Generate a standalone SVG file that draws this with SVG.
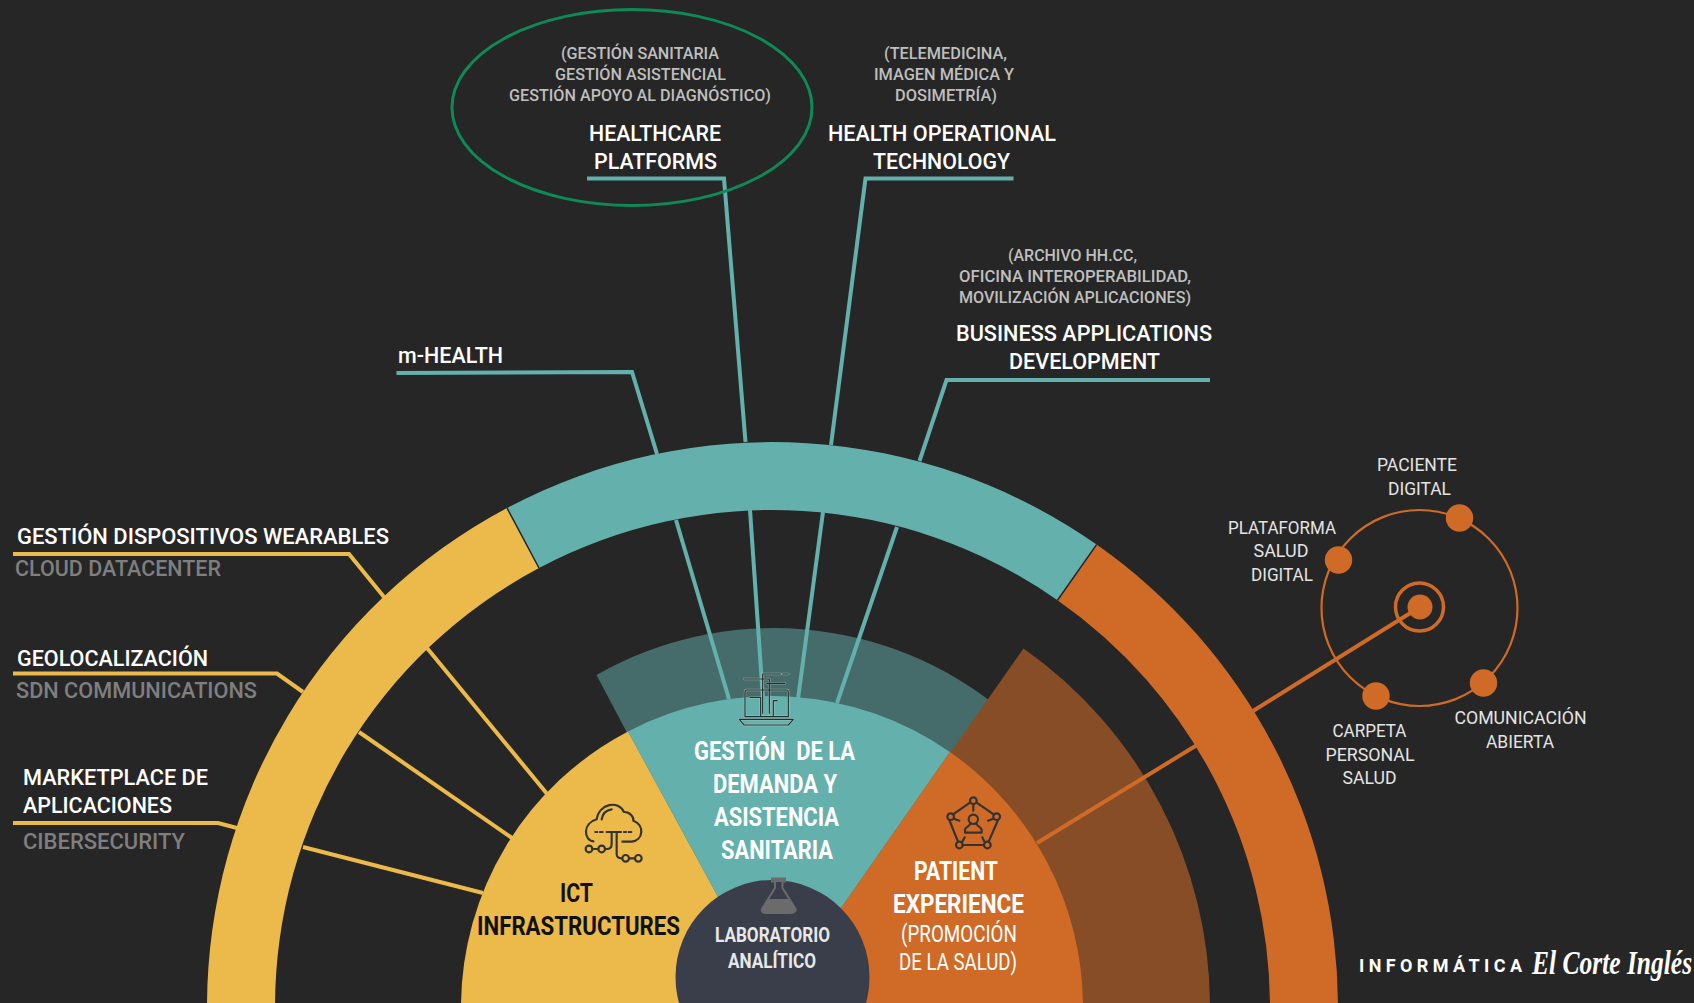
<svg xmlns="http://www.w3.org/2000/svg" width="1694" height="1003" viewBox="0 0 1694 1003">
<style>
text{font-family:Roboto,"Liberation Sans",sans-serif}
.h{font-size:22px;font-weight:500;fill:#fff}
.g{font-size:17px;font-weight:500;fill:#bfbfbf}
.y{font-size:22px;font-weight:500;fill:#fff}
.d{font-size:22px;font-weight:500;fill:#7f7f7f}
.b{font-size:25px;font-weight:700;fill:#fff}
.k{font-size:25px;font-weight:700;fill:#111}
.r{font-size:23px;font-weight:400;fill:#fff}
.l{font-size:20.5px;font-weight:700;fill:#e8e8e8}
.o{font-size:18px;font-weight:400;fill:#e4e4e4}
.ct{fill:none;stroke:#64b0ac;stroke-width:4}
.cy{fill:none;stroke:#ebba4a;stroke-width:4}
.co{fill:none;stroke:#cf6a27;stroke-width:4}
.sep{stroke:#262626;stroke-width:1.5}
.ic{fill:none;stroke:#333;stroke-width:6.5;stroke-linecap:round;stroke-linejoin:round}
.dot{fill:#cf6a27}
</style>
<rect width="1694" height="1003" fill="#262626"/>

<g id="back-wedges">
<path d="M596.5 675A358 358 0 0 1 1002.6 710.8L772 1007Z" fill="#456b6a"/>
<path d="M1023.5 648.5A438 438 0 0 1 1210 1007H772Z" fill="#864d26"/>
</g>

<g id="connectors">
<path class="ct" d="M587 178.5H724L745.5 442"/>
<path class="ct" d="M1013.500 178.5H865.5L831 445"/>
<path class="ct" d="M396.5 373L632 372L657 454"/>
<path class="ct" d="M1210 380H946.5L919.5 461"/>
<path class="ct" d="M676 520L729 699"/>
<path class="ct" d="M750 510L763 699"/>
<path class="ct" d="M823 512L798 699"/>
<path class="ct" d="M897 527L837 703"/>
<path class="cy" d="M13 554H349L384 597"/>
<path class="cy" d="M13 673.5H277L303 692"/>
<path class="cy" d="M13 823H218L237 828"/>
<path class="cy" d="M427 648L548 795"/>
<path class="cy" d="M359 732L512 838"/>
<path class="cy" d="M303 847L483 893"/>
<path class="co" d="M1420 607L1253 711"/>
<path class="co" d="M1197 745L1037 843"/>
</g>

<g id="outer-ring">
<path d="M207 1007A565.500 565.500 0 0 1 507 508L539 568A497 497 0 0 0 275 1007Z" fill="#ebba4a"/>
<path d="M507 508A565.500 565.500 0 0 1 1096.6 544.6L1057.5 600.2A497 497 0 0 0 539 568Z" fill="#64b0ac"/>
<path d="M1096.6 544.6A565.500 565.500 0 0 1 1338 1007H1270A497 497 0 0 0 1057.5 600.2Z" fill="#cf6a27"/>
<path class="sep" d="M507 508L539 568M1096.6 544.6L1057.5 600.2"/>
</g>

<g id="ict-infrastructures">
<path d="M461 1007A311 311 0 0 1 628 731.5L778 1007Z" fill="#ebba4a"/>
<g class="ic" transform="translate(560 780) scale(.3333)">
<path d="M100 184C72 182 66 130 110 118C118 70 175 60 192 96C210 95 222 112 220 122C255 135 250 182 215 185H187"/>
<path d="M125 118C128 100 140 90 155 88"/>
<path d="M140 156H183M106 156H112M120 156H128M192 156H198M206 156H214"/>
<path d="M155 156V192Q155 207 140 207H135M170 156V222Q170 235 185 235"/>
<circle cx="125" cy="207" r="10"/><circle cx="87" cy="207" r="10"/><path d="M97 207H115"/>
<circle cx="197" cy="235" r="10"/><circle cx="235" cy="235" r="10"/><path d="M207 235H225"/>
</g>
<text class="k" x="560" y="902" textLength="33" lengthAdjust="spacingAndGlyphs">ICT</text>
<text class="k" x="477" y="935" textLength="203" lengthAdjust="spacingAndGlyphs">INFRASTRUCTURES</text>
</g>

<g id="gestion-demanda">
<path d="M628 731.5A311 311 0 0 1 950 752L772 1007L778 1007Z" fill="#64b0ac"/>
<g transform="translate(720 650) scale(.3333)" fill="none" stroke-linecap="round" stroke-linejoin="round">
<g stroke="#c6d8d6" stroke-width="7" opacity=".55">
<path d="M80 120H200Q205 120 205 126V200H75V126Q75 120 80 120ZM58 208H220L205 225H72Z"/>
<path d="M128 72H182M188 72H205M72 87H148V96M128 72V190M140 100H195M148 100V190M90 142H122V198M160 152H172M160 152V198"/>
</g>
<g stroke="#22302f" stroke-width="3.500">
<path d="M80 120H200Q205 120 205 126V200H75V126Q75 120 80 120ZM58 208H220L205 225H72Z"/>
<path d="M128 72H182M188 72H205M72 87H148V96M128 72V190M140 100H195M148 100V190M90 142H122V198M160 152H172M160 152V198"/>
</g>
</g>
<text class="b" x="694" y="760" textLength="161" lengthAdjust="spacingAndGlyphs" xml:space="preserve">GESTIÓN  DE LA</text>
<text class="b" x="713" y="793" textLength="124" lengthAdjust="spacingAndGlyphs">DEMANDA Y</text>
<text class="b" x="714" y="826" textLength="125" lengthAdjust="spacingAndGlyphs">ASISTENCIA</text>
<text class="b" x="721" y="859" textLength="112" lengthAdjust="spacingAndGlyphs">SANITARIA</text>
</g>

<g id="patient-experience">
<path d="M950 752A311 311 0 0 1 1083 1007H772Z" fill="#cf6a27"/>
<g class="ic" transform="translate(930 780) scale(.3333)">
<circle cx="130" cy="62" r="10"/><circle cx="200" cy="110" r="10"/><circle cx="172" cy="195" r="10"/><circle cx="88" cy="195" r="10"/><circle cx="62" cy="110" r="10"/>
<path d="M140 68L191 103M204 120L176 185M162 195H98M84 185L58 120M69 103L120 68"/>
<path d="M130 72V92M190 116L174 122M163 185L157 172M97 185L104 172M72 116L88 122"/>
<circle cx="130" cy="118" r="14"/>
<path d="M120 132C118 140 106 140 105 150V158H155V150C154 140 142 140 140 132"/>
</g>
<text class="b" x="914" y="880" textLength="84" lengthAdjust="spacingAndGlyphs">PATIENT</text>
<text class="b" x="893" y="913" textLength="131" lengthAdjust="spacingAndGlyphs">EXPERIENCE</text>
<text class="r" x="901" y="942" textLength="116" lengthAdjust="spacingAndGlyphs">(PROMOCIÓN</text>
<text class="r" x="899" y="970" textLength="118" lengthAdjust="spacingAndGlyphs">DE LA SALUD)</text>
</g>

<g id="laboratorio">
<circle cx="772.5" cy="977" r="97" fill="#393e4a"/>
<path d="M772 878.500H785V881.500H782.500V888L795 908C797 911.500 794 913 790.500 913H766.500C763 913 760.500 911.500 762.500 908L775 888V881.500H772Z" fill="none" stroke="#6b6b6b" stroke-width="2"/>
<path d="M772 878H785V882H775Z" fill="#6b6b6b"/>
<path d="M767.500 899H789.500L795 908C797 911.500 794 913 790.500 913H766.500C763 913 760.500 911.500 762.500 908Z" fill="#6b6b6b"/>
<text class="l" x="715" y="942" textLength="115" lengthAdjust="spacingAndGlyphs">LABORATORIO</text>
<text class="l" x="728" y="968" textLength="88" lengthAdjust="spacingAndGlyphs">ANALÍTICO</text>
</g>

<g id="healthcare-platforms">
<ellipse cx="632" cy="107.5" rx="180" ry="98" fill="none" stroke="#0e8a57" stroke-width="3"/>
<text class="g" x="561" y="58.500" textLength="158" lengthAdjust="spacingAndGlyphs">(GESTIÓN SANITARIA</text>
<text class="g" x="555" y="80" textLength="171" lengthAdjust="spacingAndGlyphs">GESTIÓN ASISTENCIAL</text>
<text class="g" x="509" y="101" textLength="262" lengthAdjust="spacingAndGlyphs">GESTIÓN APOYO AL DIAGNÓSTICO)</text>
<text class="h" x="589" y="141" textLength="132" lengthAdjust="spacingAndGlyphs">HEALTHCARE</text>
<text class="h" x="594" y="169" textLength="123" lengthAdjust="spacingAndGlyphs">PLATFORMS</text>
</g>

<g id="health-operational">
<text class="g" x="884" y="58.500" textLength="123" lengthAdjust="spacingAndGlyphs">(TELEMEDICINA,</text>
<text class="g" x="874" y="80" textLength="140" lengthAdjust="spacingAndGlyphs">IMAGEN MÉDICA Y</text>
<text class="g" x="895" y="101" textLength="102" lengthAdjust="spacingAndGlyphs">DOSIMETRÍA)</text>
<text class="h" x="828" y="141" textLength="228" lengthAdjust="spacingAndGlyphs">HEALTH OPERATIONAL</text>
<text class="h" x="873" y="169" textLength="137" lengthAdjust="spacingAndGlyphs">TECHNOLOGY</text>
</g>

<g id="business-applications">
<text class="g" x="1008" y="261" textLength="129" lengthAdjust="spacingAndGlyphs">(ARCHIVO HH.CC,</text>
<text class="g" x="959" y="282" textLength="232" lengthAdjust="spacingAndGlyphs">OFICINA INTEROPERABILIDAD,</text>
<text class="g" x="959" y="303" textLength="232" lengthAdjust="spacingAndGlyphs">MOVILIZACIÓN APLICACIONES)</text>
<text class="h" x="956" y="341" textLength="256" lengthAdjust="spacingAndGlyphs">BUSINESS APPLICATIONS</text>
<text class="h" x="1009" y="369" textLength="151" lengthAdjust="spacingAndGlyphs">DEVELOPMENT</text>
</g>

<g id="m-health">
<text class="h" x="398" y="363" textLength="105" lengthAdjust="spacingAndGlyphs">m-HEALTH</text>
</g>

<g id="wearables">
<text class="y" x="17" y="544" textLength="372" lengthAdjust="spacingAndGlyphs">GESTIÓN DISPOSITIVOS WEARABLES</text>
<text class="d" x="15" y="576" textLength="206" lengthAdjust="spacingAndGlyphs">CLOUD DATACENTER</text>
</g>
<g id="geolocalizacion">
<text class="y" x="17" y="666" textLength="191" lengthAdjust="spacingAndGlyphs">GEOLOCALIZACIÓN</text>
<text class="d" x="16" y="698" textLength="241" lengthAdjust="spacingAndGlyphs">SDN COMMUNICATIONS</text>
</g>
<g id="marketplace">
<text class="y" x="23" y="785" textLength="185" lengthAdjust="spacingAndGlyphs">MARKETPLACE DE</text>
<text class="y" x="23" y="813" textLength="149" lengthAdjust="spacingAndGlyphs">APLICACIONES</text>
<text class="d" x="23" y="849" textLength="162" lengthAdjust="spacingAndGlyphs">CIBERSECURITY</text>
</g>

<g id="orbit">
<circle cx="1419.500" cy="608" r="98" fill="none" stroke="#cf6a27" stroke-width="2.2"/>
<circle cx="1419.500" cy="607" r="24" fill="none" stroke="#cf6a27" stroke-width="3.5"/>
<circle class="dot" cx="1420" cy="607" r="12.5"/>
<circle class="dot" cx="1459.500" cy="518" r="13.7"/>
<circle class="dot" cx="1338.500" cy="560" r="13.7"/>
<circle class="dot" cx="1483.500" cy="683" r="13.7"/>
<circle class="dot" cx="1376" cy="696" r="13.7"/>
</g>
<g id="paciente-digital">
<text class="o" x="1377" y="471" textLength="80" lengthAdjust="spacingAndGlyphs">PACIENTE</text>
<text class="o" x="1388" y="494.500" textLength="63" lengthAdjust="spacingAndGlyphs">DIGITAL</text>
</g>
<g id="plataforma-salud">
<text class="o" x="1228" y="534" textLength="108" lengthAdjust="spacingAndGlyphs">PLATAFORMA</text>
<text class="o" x="1253.500" y="557" textLength="55" lengthAdjust="spacingAndGlyphs">SALUD</text>
<text class="o" x="1251" y="581" textLength="62" lengthAdjust="spacingAndGlyphs">DIGITAL</text>
</g>
<g id="comunicacion-abierta">
<text class="o" x="1454.500" y="724" textLength="132" lengthAdjust="spacingAndGlyphs">COMUNICACIÓN</text>
<text class="o" x="1486" y="748" textLength="68" lengthAdjust="spacingAndGlyphs">ABIERTA</text>
</g>
<g id="carpeta-personal">
<text class="o" x="1332.500" y="737" textLength="74" lengthAdjust="spacingAndGlyphs">CARPETA</text>
<text class="o" x="1325.500" y="761" textLength="89" lengthAdjust="spacingAndGlyphs">PERSONAL</text>
<text class="o" x="1342.500" y="784" textLength="54" lengthAdjust="spacingAndGlyphs">SALUD</text>
</g>

<g id="logo">
<text x="1359" y="972" font-size="18" font-weight="700" fill="#fff" textLength="163">INFORMÁTICA</text>
<text transform="translate(1532 974) scale(.75 1)" font-size="34" font-weight="700" font-style="italic" fill="#fff" style="font-family:'Liberation Serif',serif">El Corte Inglés</text>
</g>
</svg>
